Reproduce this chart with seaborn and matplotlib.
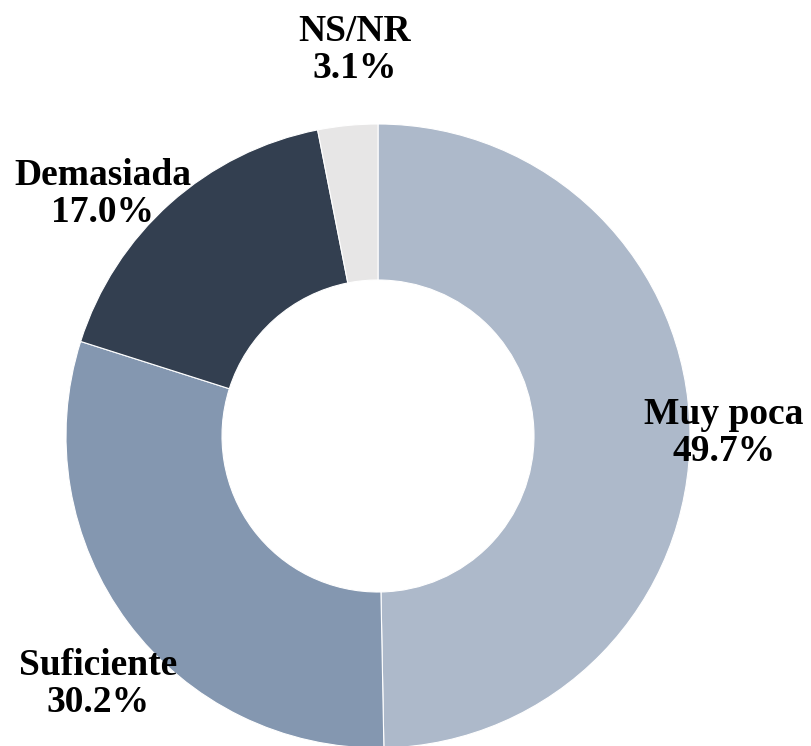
import matplotlib
matplotlib.use("Agg")
import matplotlib.pyplot as plt
import seaborn as sns

categories = ["Muy poca", "Suficiente", "Demasiada", "NS/NR"]
shares = [49.7, 30.2, 17.0, 3.1]
colors = ["#ADB9CA", "#8497B0", "#333F50", "#E7E6E6"]

sns.set_theme(style="white")
plt.rcParams["font.family"] = ["Liberation Serif", "DejaVu Serif"]

W, H = 812, 746
fig = plt.figure(figsize=(W / 100, H / 100), dpi=100)
ax = fig.add_axes([0, 0, 1, 1])

cx, cy, r = 378, H - 436, 312
ax.pie(shares, colors=colors, startangle=90, counterclock=False,
       center=(cx, cy), radius=r, frame=True,
       wedgeprops=dict(width=r * 0.5, edgecolor="white", linewidth=0.8))
ax.set_xlim(0, W)
ax.set_ylim(0, H)
ax.set_aspect("equal")
ax.axis("off")

label_pos = {
    "Muy poca": (724, 433),
    "Suficiente": (98, 684),
    "Demasiada": (103, 194),
    "NS/NR": (355, 50),
}
for cat, val in zip(categories, shares):
    x, y = label_pos[cat]
    ax.text(x, H - y, f"{cat}\n{val:.1f}%", ha="center", va="center",
            fontsize=27, fontweight="bold", color="black", linespacing=1.1)

fig.savefig("out.png", dpi=100, facecolor="white")
